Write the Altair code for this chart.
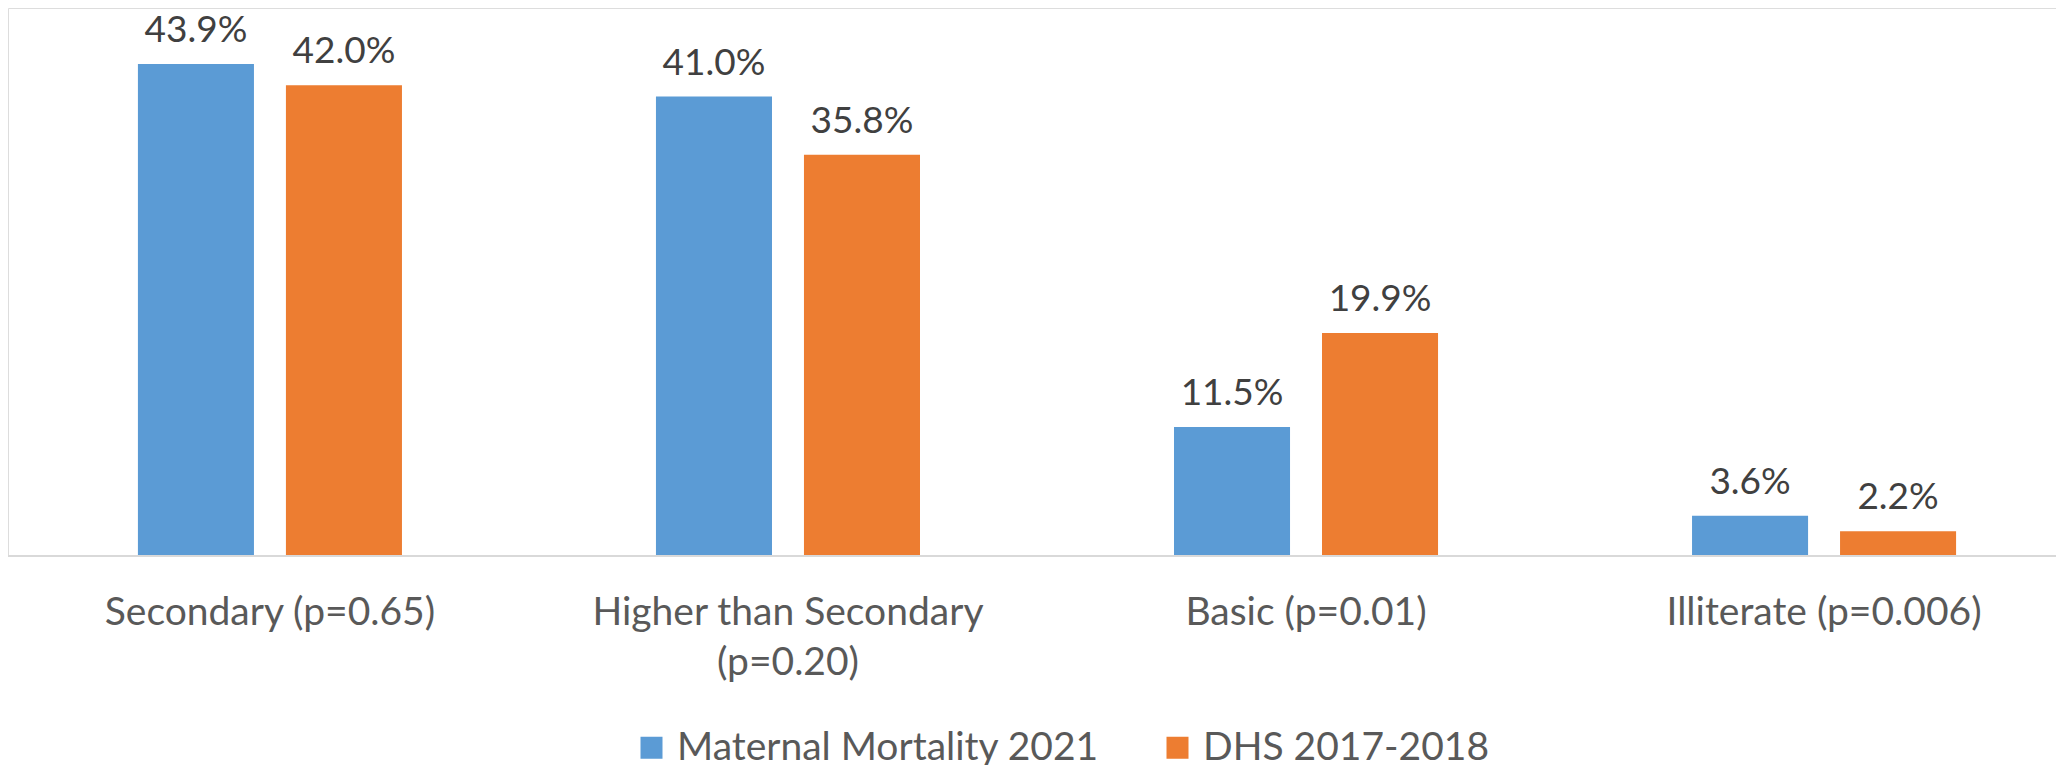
import altair as alt
import pandas as pd

categories = ["Secondary (p=0.65)", "Higher than Secondary\n(p=0.20)", "Basic (p=0.01)", "Illiterate (p=0.006)"]
series = ["Maternal Mortality 2021", "DHS 2017-2018"]
mm2021 = [43.9, 41.0, 11.5, 3.6]
dhs = [42.0, 35.8, 19.9, 2.2]
colors = ["#5B9BD5", "#ED7D31"]

rows = []
for c, a, b in zip(categories, mm2021, dhs):
    rows.append({"cat": c, "series": series[0], "value": a})
    rows.append({"cat": c, "series": series[1], "value": b})
df = pd.DataFrame(rows)

FONT = "Lato"
W, H = 2048, 548

x = alt.X("cat:N", sort=categories,
          scale=alt.Scale(range=[3, 2075], paddingInner=0.4903, paddingOuter=0.245),
          axis=alt.Axis(title=None, domain=False, ticks=False, tickSize=0, grid=False,
                        labelAngle=0, labelFont=FONT, labelFontSize=39, labelColor="#595959",
                        labelPadding=37, labelLineHeight=50, labelLimit=0,
                        labelExpr="split(datum.label, '\\n')"))
xo = alt.XOffset("series:N", sort=series, scale=alt.Scale(paddingInner=0.216, paddingOuter=0))
y = alt.Y("value:Q", scale=alt.Scale(domain=[0, 48.9]), axis=None)

base = alt.Chart(df)

bars = base.mark_bar().encode(
    x=x, xOffset=xo, y=y,
    color=alt.Color("series:N", sort=series,
                    scale=alt.Scale(domain=series, range=colors),
                    legend=alt.Legend(orient="none", legendX=624, legendY=720,
                                      direction="horizontal", title=None,
                                      symbolType="square", symbolSize=484,
                                      symbolStrokeWidth=0, labelFont=FONT,
                                      labelFontSize=39, labelColor="#595959",
                                      columnPadding=58, labelOffset=6, padding=0,
                                      labelLimit=0)),
)

labels = base.transform_calculate(
    lbl="format(datum.value, '.1f') + '%'"
).mark_text(font=FONT, fontSize=37, color="#404040", baseline="alphabetic", dy=-22).encode(
    x=x, xOffset=xo, y=y, text="lbl:N"
)

axis_line = alt.Chart(pd.DataFrame({"v": [0]})).mark_rule(color="#D9D9D9", strokeWidth=2).encode(
    y=alt.Y("v:Q", scale=alt.Scale(domain=[0, 48.9]), axis=None),
    x=alt.value(0), x2=alt.value(W),
)

chart = alt.layer(bars, labels, axis_line).properties(
    width=W, height=H,
    autosize=alt.AutoSizeParams(type="none"),
    padding={"left": 0, "top": 0, "right": 0, "bottom": 209},
).configure_view(stroke=None).configure(background="white")

chart.save("out.html", embed_options={"renderer": "svg", "actions": False})
